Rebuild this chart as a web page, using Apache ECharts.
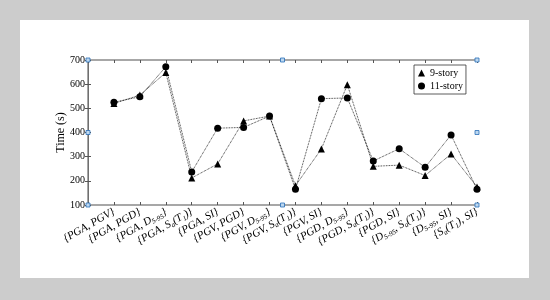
<!DOCTYPE html>
<html><head><meta charset="utf-8">
<script src="https://cdn.jsdelivr.net/npm/echarts@6/dist/echarts.min.js"></script>
<style>html,body{margin:0;padding:0;background:#cccccc;}#c{width:550px;height:300px;}</style>
</head><body><div id="c"></div>
<script>
var categories = ["{PGA, PGV}","{PGA, PGD}","{PGA, D{s|5-95}}","{PGA, S{s|a}(T{s|1})}","{PGA, SI}","{PGV, PGD}","{PGV, D{s|5-95}}","{PGV, S{s|a}(T{s|1})}","{PGV, SI}","{PGD, D{s|5-95}}","{PGD, S{s|a}(T{s|1})}","{PGD, SI}","{D{s|5-95}, S{s|a}(T{s|1})}","{D{s|5-95}, SI}","{S{s|a}(T{s|1}), SI}"];
var story9 = [520, 555, 648, 212, 270, 448, 468, 180, 332, 598, 260, 265, 222, 311, 175];
var story11 = [525, 548, 672, 237, 418, 421, 468, 165, 540, 543, 282, 333, 256, 390, 165];
var yTicks = [100, 200, 300, 400, 500, 600, 700];

var G = {left: 88, top: 60, right: 477, bottom: 205};
var chart = echarts.init(document.getElementById('c'));
function pts(arr){ return arr.map(function(v,i){ return [i+1, v]; }); }
var handles = [];
[[G.left,G.top],[(G.left+G.right)/2,G.top],[G.right,G.top],[G.left,(G.top+G.bottom)/2],[G.right,(G.top+G.bottom)/2],[G.left,G.bottom],[(G.left+G.right)/2,G.bottom],[G.right,G.bottom]].forEach(function(p){
  handles.push({type:'rect', shape:{x:p[0]-2,y:p[1]-2,width:4,height:4}, style:{fill:'#bcd7f0',stroke:'#2a6fb8',lineWidth:0.8}, z:100});
});
var serif = '"Liberation Serif", "Times New Roman", serif';
var axisGray = '#8a8a8a';
chart.setOption({
  animation:false,
  graphic: [{type:'rect', shape:{x:20,y:20,width:509,height:258}, style:{fill:'#ffffff'}, z:-10}].concat(handles),
  grid:{left:G.left, top:G.top, width:G.right-G.left, height:G.bottom-G.top},
  legend:{
    left:414, top:65, orient:'vertical', itemWidth:7, itemHeight:7, itemGap:3,
    padding:[3,3,3,4], borderColor:'#333', borderWidth:0.8, backgroundColor:'#fff',
    textStyle:{fontFamily:serif, fontSize:10, color:'#000'},
    data:[{name:'9-story', icon:'triangle'},{name:'11-story', icon:'circle'}]
  },
  xAxis:[{
    type:'value', min:0, max:15, interval:1, position:'bottom',
    axisLine:{lineStyle:{color:axisGray, width:1.5}},
    axisTick:{inside:true, length:3, lineStyle:{color:'#555'}},
    splitLine:{show:false},
    axisLabel:{
      rotate:30, margin:6, fontFamily:serif, fontStyle:'italic', fontSize:11, color:'#000',
      formatter:function(v){ return (v>=1 && v<=categories.length) ? categories[v-1] : ''; },
      rich:{s:{fontSize:7, fontFamily:serif, fontStyle:'italic', color:'#000', padding:[6,0,0,0]}}
    }
  },{
    type:'value', min:0, max:15, interval:1, position:'top',
    axisLine:{lineStyle:{color:axisGray, width:1.5}},
    axisTick:{inside:true, length:3, lineStyle:{color:'#555'}},
    axisLabel:{show:false}, splitLine:{show:false}
  }],
  yAxis:[{
    type:'value', min:100, max:700, interval:100, position:'left',
    name:'Time (s)', nameLocation:'middle', nameGap:21, nameMoveOverlap:false,
    nameTextStyle:{fontFamily:serif, fontSize:12, color:'#000'},
    axisLine:{show:true, lineStyle:{color:'#222', width:1}},
    axisTick:{show:true, inside:true, length:3, lineStyle:{color:'#555'}},
    axisLabel:{margin:3, fontFamily:serif, fontSize:10, color:'#000',
      formatter:function(v){ return yTicks.indexOf(v)>=0 ? String(v) : ''; }},
    splitLine:{show:false}
  },{
    type:'value', min:100, max:700, interval:100, position:'right',
    axisLine:{show:true, lineStyle:{color:axisGray, width:1.5}},
    axisTick:{show:true, inside:true, length:3, lineStyle:{color:'#555'}},
    axisLabel:{show:false}, splitLine:{show:false}
  }],
  series:[{
    name:'9-story', type:'line', data:pts(story9), symbol:'triangle', symbolSize:7,
    itemStyle:{color:'#000'}, lineStyle:{color:'#000', width:0.8, type:'dotted'}, z:3
  },{
    name:'11-story', type:'line', data:pts(story11), symbol:'circle', symbolSize:7,
    itemStyle:{color:'#000'}, lineStyle:{color:'#000', width:0.8, type:'dotted'}, z:4
  }]
});
</script></body></html>
